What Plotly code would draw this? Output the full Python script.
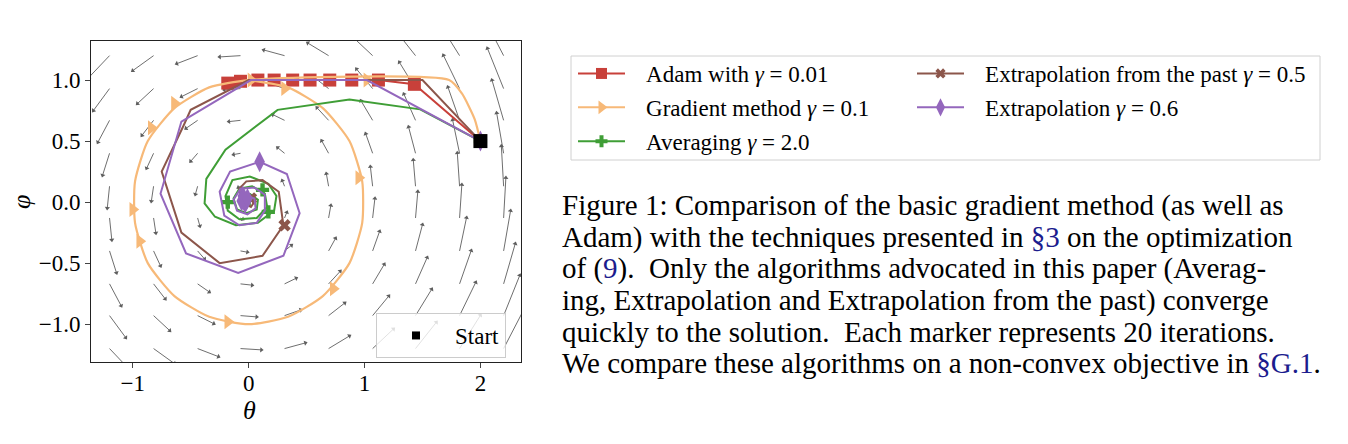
import math
import plotly.graph_objects as go

# quiver grid for the vector field of the bilinear game
theta_grid = [-1.2, -0.82, -0.44, -0.07, 0.31, 0.69, 1.07, 1.44, 1.82, 2.2]
phi_grid = [-1.2, -0.93, -0.67, -0.4, -0.13, 0.13, 0.4, 0.67, 0.93, 1.2]

# trajectories (theta, phi)
adam_theta = [2.0, 1.43, 1.12, 0.89, 0.70, 0.53, 0.38, 0.22, 0.08, -0.07, -0.18]
adam_phi = [0.5, 0.965, 1.0, 1.0, 1.0, 1.0, 1.0, 1.0, 1.0, 0.99, 0.975]

grad_theta = [2.0, 1.95, 1.84, 1.73, 0.0, -0.34, -0.64, -0.87, -0.98, -0.98, -0.87,
              -0.64, -0.34, 0.0, 0.34, 0.64, 0.87, 0.98, 0.98, 0.87, 0.64, 0.34, 0.0]
grad_phi = [0.5, 0.68, 0.89, 1.0, 1.0, 0.94, 0.77, 0.5, 0.17, -0.17, -0.5,
            -0.77, -0.94, -1.0, -0.94, -0.77, -0.5, -0.17, 0.17, 0.5, 0.77, 0.94, 1.0]
grad_mark_theta = [0.02, 1.02, 0.31, -0.64, -0.84, -1.0, -0.94, -0.18, 0.73, 0.95]
grad_mark_phi = [1.0, 1.0, 0.93, 0.81, 0.61, -0.06, -0.32, -0.98, -0.71, 0.2]

avg_theta = [2.0, 1.48, 0.87, 0.25, -0.2, -0.365, -0.38, -0.29, -0.11, 0.08, 0.22,
             0.24, 0.17, 0.01, -0.14, -0.2, -0.18, -0.08, 0.07, 0.16, 0.14, 0.03,
             -0.08, -0.13, -0.1, -0.02, 0.07, 0.08, 0.02, -0.03, 0.0]
avg_phi = [0.5, 0.76, 0.84, 0.756, 0.43, 0.19, -0.01, -0.12, -0.19, -0.17, -0.07,
           0.05, 0.15, 0.21, 0.18, 0.05, -0.07, -0.14, -0.13, -0.04, 0.07, 0.13,
           0.11, 0.03, -0.06, -0.09, -0.06, 0.02, 0.06, 0.03, 0.0]
avg_mark_theta = [2.0, -0.18, 0.12, 0.17, 0.0]
avg_mark_phi = [0.5, 0.0, 0.10, -0.08, 0.02]

past_theta = [2.0, 1.5, 0.0, -0.5, -0.56, -0.75, -0.58, -0.25, 0.12, 0.30, 0.26, 0.12,
              -0.02, -0.08, -0.06, 0.02, 0.06, 0.02, 0.0]
past_phi = [0.5, 1.0, 1.0, 0.756, 0.63, 0.25, -0.25, -0.50, -0.44, -0.19, 0.085, 0.18,
            0.17, 0.11, 0.0, -0.04, 0.02, 0.05, 0.02]
past_mark_theta = [2.0, 0.31, 0.02]
past_mark_phi = [0.5, -0.19, 0.03]

extra_theta = [2.0, 1.02, 0.02, -0.58, -0.76, -0.54, -0.09, 0.30, 0.44, 0.33, 0.095,
               -0.16, -0.25, -0.21, -0.08, 0.07, 0.14, 0.14, 0.05, -0.07, -0.13,
               -0.1, -0.01, 0.06, 0.05, -0.01, -0.04, -0.02]
extra_phi = [0.5, 1.0, 1.0, 0.66, 0.07, -0.42, -0.58, -0.44, -0.09, 0.23, 0.33,
             0.25, 0.085, -0.11, -0.19, -0.17, -0.07, 0.06, 0.12, 0.11, 0.02,
             -0.07, -0.1, -0.05, 0.03, 0.05, 0.01, -0.01]
extra_mark_theta = [2.0, 0.095, -0.05, -0.03, -0.06, -0.01]
extra_mark_phi = [0.5, 0.33, 0.05, -0.01, 0.01, 0.03]

start_theta = [2.0]
start_phi = [0.5]

caption_lines = [
    "Figure 1: Comparison of the basic gradient method (as well as",
    "Adam) with the techniques presented in <span style='color:#1c1c8e'>§3</span> on the optimization",
    "of (<span style='color:#1c1c8e'>9</span>).  Only the algorithms advocated in this paper (Averag-",
    "ing, Extrapolation and Extrapolation from the past) converge",
    "quickly to the solution.  Each marker represents 20 iterations.",
    "We compare these algorithms on a non-convex objective in <span style='color:#1c1c8e'>§G.1</span>.",
]

SERIF = "Liberation Serif"
W, H = 1348, 444
L, R, T, B = 91, 521, 41, 362  # plot box in pixels
XR = [-1.36, 2.35]
YR = [-1.31, 1.32]
GAP = "\u2002\u2009"


def px_to_paper(px, py):
    return (px - L) / (R - L), (B - py) / (B - T)


fig = go.Figure()

# quiver: field (-phi, theta), shafts as one line trace, heads as rotated triangles
arrow_scale = 0.15
kx = (R - L) / (XR[1] - XR[0])
ky = (B - T) / (YR[1] - YR[0])
qx, qy, hx, hy, hang = [], [], [], [], []
for th in theta_grid:
    for ph in phi_grid:
        u, v = -ph * arrow_scale, th * arrow_scale
        qx.extend([th, th + u, None])
        qy.extend([ph, ph + v, None])
        hx.append(th + u)
        hy.append(ph + v)
        hang.append(math.degrees(math.atan2(u * kx, v * ky)))

fig.add_trace(go.Scatter(
    x=qx, y=qy, mode='lines', showlegend=False, hoverinfo='skip',
    line=dict(color='#5e5e5e', width=0.9)
))
fig.add_trace(go.Scatter(
    x=hx, y=hy, mode='markers', showlegend=False, hoverinfo='skip',
    marker=dict(symbol='triangle-up', size=4.5, angle=hang, color='#5e5e5e',
                line=dict(width=0))
))

series = [
    ("Adam with <i>γ</i> = 0.01", '#c8403a', 'square', 13, 11,
     adam_theta, adam_phi, adam_theta, adam_phi, 'legend2', 'linear'),
    ("Gradient method <i>γ</i> = 0.1", '#f7b978', 'triangle-right', 13, 12,
     grad_theta, grad_phi, grad_mark_theta, grad_mark_phi, 'legend2', 'spline'),
    ("Averaging <i>γ</i> = 2.0", '#3f9e36', 'cross', 11, 10,
     avg_theta, avg_phi, avg_mark_theta, avg_mark_phi, 'legend2', 'linear'),
    ("Extrapolation from the past <i>γ</i> = 0.5", '#8c564b', 'x', 11, 9,
     past_theta, past_phi, past_mark_theta, past_mark_phi, 'legend3', 'linear'),
    ("Extrapolation <i>γ</i> = 0.6", '#9467bd', 'diamond-tall', 15, 13,
     extra_theta, extra_phi, extra_mark_theta, extra_mark_phi, 'legend3', 'linear'),
]

for i, (name, color, symbol, size, lsize, lx, ly, mx, my, leg, shape) in enumerate(series):
    fig.add_trace(go.Scatter(
        x=lx, y=ly, mode='lines', showlegend=False,
        line=dict(color=color, width=2.2 if shape == 'spline' else 2,
                  shape=shape, smoothing=0.6)
    ))
    fig.add_trace(go.Scatter(
        x=mx, y=my, mode='markers', showlegend=False,
        marker=dict(color=color, symbol=symbol, size=size, line=dict(width=0))
    ))
    fig.add_trace(go.Scatter(
        x=[None], y=[None], mode='lines+markers', name=GAP + name,
        legend=leg, legendgroup=f"g{i}",
        line=dict(color=color, width=2),
        marker=dict(color=color, symbol=symbol, size=lsize, line=dict(width=0))
    ))

fig.add_trace(go.Scatter(
    x=start_theta, y=start_phi, mode='markers', showlegend=False,
    marker=dict(color='black', symbol='square', size=14)
))
fig.add_trace(go.Scatter(
    x=[None], y=[None], mode='markers', name='Start', legend='legend',
    marker=dict(color='black', symbol='square', size=8)
))

annotations = []
for k, line in enumerate(caption_lines):
    xp, yp = px_to_paper(560, 205.5 + k * 31.5)
    annotations.append(dict(
        x=xp, y=yp, xref='paper', yref='paper', xanchor='left', yanchor='middle',
        text=line, showarrow=False, font=dict(family=SERIF, size=29, color='black')
    ))

# axis labels
tx, ty = px_to_paper(249, 411)
annotations.append(dict(x=tx, y=ty, xref='paper', yref='paper', text='<i>θ</i>',
                        xanchor='center', yanchor='middle',
                        showarrow=False, font=dict(family=SERIF, size=26)))
lx_, ly_ = px_to_paper(22, 202)
annotations.append(dict(x=lx_, y=ly_, xref='paper', yref='paper', text='<i>φ</i>',
                        xanchor='center', yanchor='middle', textangle=-90,
                        showarrow=False, font=dict(family=SERIF, size=26)))

bx0, by1 = px_to_paper(571, 56)
bx1, by0 = px_to_paper(1320, 160)

fig.update_layout(
    width=W, height=H,
    margin=dict(l=L, r=W - R, t=T, b=H - B, pad=0, autoexpand=False),
    plot_bgcolor='white', paper_bgcolor='white',
    font=dict(family=SERIF, size=23, color='black'),
    annotations=annotations,
    shapes=[dict(type='rect', xref='paper', yref='paper',
                 x0=bx0, x1=bx1, y0=by0, y1=by1,
                 line=dict(color='#d0d0d0', width=1), fillcolor='rgba(0,0,0,0)')],
    xaxis=dict(range=XR, tickvals=[-1, 0, 1, 2], ticks='outside',
               ticklen=5, showline=True, mirror=True, linecolor='#222222',
               ticklabelstandoff=-5,
               showgrid=False, zeroline=False, automargin=False),
    yaxis=dict(range=YR, tickvals=[-1, -0.5, 0, 0.5, 1], tickformat='.1f',
               ticks='outside', ticklen=5, showline=True, mirror=True,
               linecolor='#222222', showgrid=False, zeroline=False, automargin=False),
    legend=dict(xref='container', yref='container', x=376 / W, y=1 - 313 / H,
                xanchor='left', yanchor='top', bgcolor='rgba(255,255,255,0.8)',
                bordercolor='#cccccc', borderwidth=1, itemwidth=68,
                itemsizing='trace', font=dict(family=SERIF, size=23)),
    legend2=dict(xref='container', yref='container', x=573 / W, y=1 - 52 / H,
                 xanchor='left', yanchor='top', bgcolor='rgba(0,0,0,0)',
                 borderwidth=0, itemwidth=47, tracegroupgap=1,
                 traceorder='grouped', itemsizing='trace',
                 font=dict(family=SERIF, size=23)),
    legend3=dict(xref='container', yref='container', x=912 / W, y=1 - 52 / H,
                 xanchor='left', yanchor='top', bgcolor='rgba(0,0,0,0)',
                 borderwidth=0, itemwidth=47, tracegroupgap=1,
                 traceorder='grouped', itemsizing='trace',
                 font=dict(family=SERIF, size=23)),
)

fig.write_html("out.html", config={'displayModeBar': False},
               post_script="document.body.style.margin='0';")
